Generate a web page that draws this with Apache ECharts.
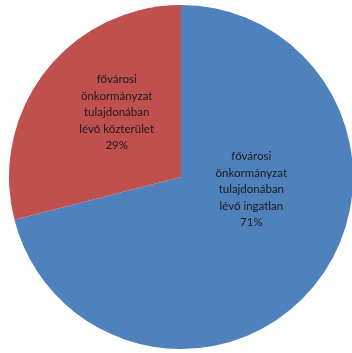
<!DOCTYPE html>
<html><head><meta charset="utf-8">
<script src="https://cdn.jsdelivr.net/npm/echarts@6/dist/echarts.min.js"></script>
<style>html,body{margin:0;padding:0;background:#fff}#c{width:352px;height:353px}</style>
</head><body><div id="c"></div>
<script>
const categories = ['fővárosi\nönkormányzat\ntulajdonában\nlévő ingatlan', 'fővárosi\nönkormányzat\ntulajdonában\nlévő közterület'];
const values = [71, 29];
const colors = ['#4F81BD', '#C0504D'];
const offsets = [[0, -42], [6, -10]];
const chart = echarts.init(document.getElementById('c'), null, {renderer: 'canvas'});
chart.setOption({
  animation: false,
  series: [{
    type: 'pie',
    center: [181, 177],
    radius: [0, 172],
    startAngle: 90,
    clockwise: true,
    silent: true,
    data: categories.map((n, i) => ({
      name: n, value: values[i],
      itemStyle: {color: colors[i]},
      label: {offset: offsets[i]}
    })),
    itemStyle: {borderColor: '#fff', borderWidth: 0},
    label: {
      show: true, position: 'inside',
      formatter: p => p.name + '\n' + p.value + '%',
      fontFamily: 'Lato', fontSize: 11.5, lineHeight: 16.5, color: '#1a1a1a',
      align: 'center'
    },
    labelLine: {show: false}
  }]
});
</script></body></html>
